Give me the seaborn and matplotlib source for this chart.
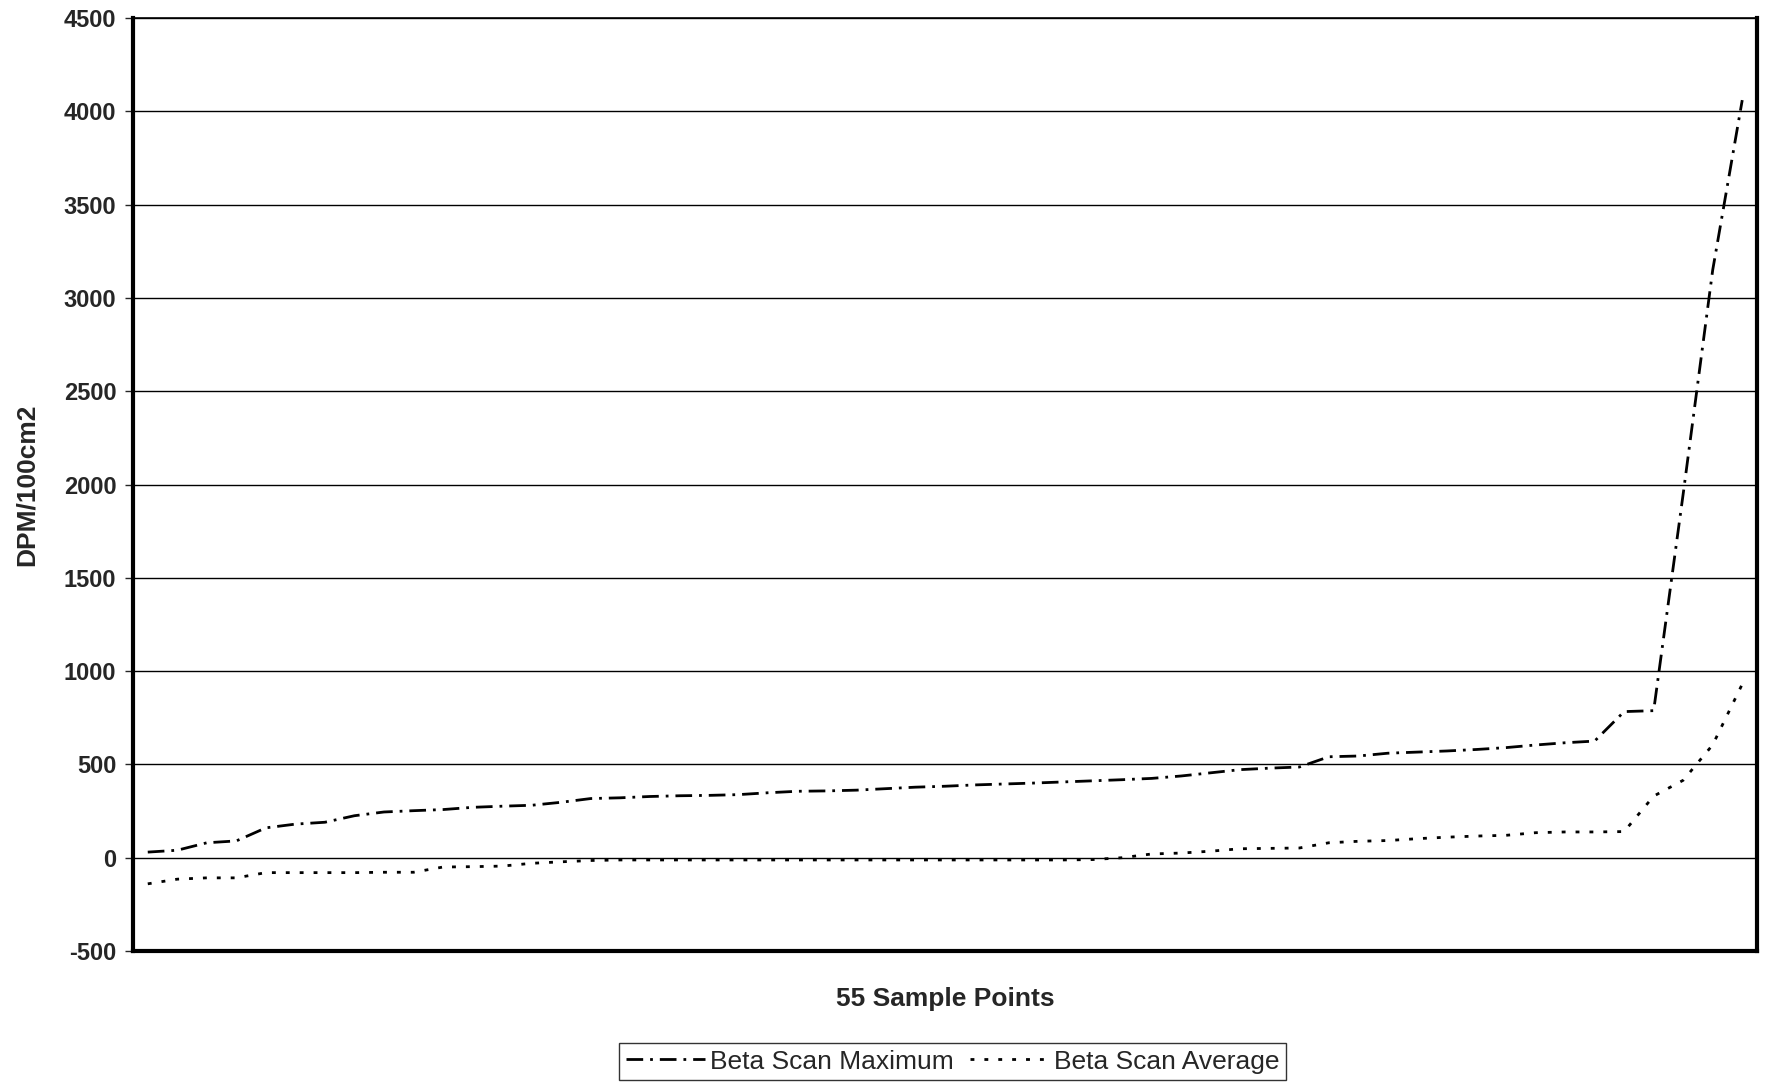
import numpy as np
import pandas as pd
import seaborn as sns
from matplotlib import pyplot as plt
from matplotlib import font_manager
from matplotlib.lines import Line2D

# values, sorted ascending per series
beta_max = [30, 40, 80, 90, 160, 180, 190, 225, 245, 252, 258, 270, 276, 281, 297,
            317, 321, 328, 332, 334, 338, 348, 356, 358, 362, 370, 378, 383, 390, 395,
            400, 406, 412, 418, 425, 438, 455, 472, 480, 486, 541, 545, 560, 566, 572,
            580, 590, 604, 616, 625, 783, 788, 1950, 3150, 4060]
beta_avg = [-140, -115, -108, -108, -80, -80, -80, -80, -78, -78, -50, -48, -45, -30, -22,
            -15, -12, -12, -12, -12, -12, -12, -12, -12, -12, -12, -12, -12, -12, -12,
            -12, -12, -10, 0, 20, 25, 35, 48, 50, 52, 80, 88, 92, 102, 110,
            116, 120, 134, 138, 138, 140, 330, 415, 605, 930]
series_names = ['Beta Scan Maximum', 'Beta Scan Average']
y_ticks = list(range(-500, 4501, 500))


def plot():
    n = len(beta_max)
    df = pd.DataFrame({
        'Sample': list(range(1, n + 1)) * 2,
        'DPM': beta_max + beta_avg,
        'Series': [series_names[0]] * n + [series_names[1]] * n,
    })

    sns.set_style('white')
    plt.rcParams['font.family'] = ['Liberation Sans', 'DejaVu Sans']

    # y label is a condensed bold face in the original
    names = {f.name for f in font_manager.fontManager.ttflist}
    if 'Liberation Sans Narrow' in names:
        ylab_font, ylab_size = 'Liberation Sans Narrow', 21
    else:
        ylab_font, ylab_size = 'Liberation Sans', 19

    fig = plt.figure(figsize=(17.71, 10.85), dpi=100)
    ax = fig.add_axes([0.0751, 0.1235, 0.9170, 0.8599])

    dash_map = {series_names[0]: (6, 2.5, 1, 2.5), series_names[1]: (1.4, 3.6)}
    sns.lineplot(data=df, x='Sample', y='DPM', style='Series', dashes=dash_map,
                 color='black', linewidth=2.0, ax=ax, legend=False)

    ax.set_xlim(0.5, n + 0.5)
    ax.set_ylim(-500, 4500)
    ax.set_yticks(y_ticks)
    ax.set_yticklabels([str(t) for t in y_ticks], fontsize=17, fontweight='bold')
    ax.set_xticks([])
    ax.grid(axis='y', color='black', linewidth=1.0)
    ax.set_axisbelow(True)
    ax.tick_params(axis='y', direction='out', length=6, width=1, left=True, pad=6)

    for side, lw in [('left', 3), ('bottom', 3), ('right', 3), ('top', 1.2)]:
        ax.spines[side].set_visible(True)
        ax.spines[side].set_color('black')
        ax.spines[side].set_linewidth(lw)

    ax.set_xlabel('55 Sample Points', fontsize=19, fontweight='bold', labelpad=26)
    ax.set_ylabel('DPM/100cm2', fontsize=ylab_size, fontweight='bold',
                  family=[ylab_font, 'Liberation Sans'], labelpad=18)

    handles = [Line2D([], [], color='black', linewidth=2.0, dashes=dash_map[s])
               for s in series_names]
    leg = fig.legend(handles, series_names, loc='center', bbox_to_anchor=(0.538, 0.0215),
                     ncol=2, fontsize=19, frameon=True, fancybox=False,
                     handlelength=3.0, handletextpad=0.2, columnspacing=0.6,
                     borderpad=0.25)
    leg.get_frame().set_edgecolor('black')
    leg.get_frame().set_linewidth(1.0)

    plt.savefig('out.png', dpi=100)


def main():
    plot()


if __name__ == "__main__":
    main()
